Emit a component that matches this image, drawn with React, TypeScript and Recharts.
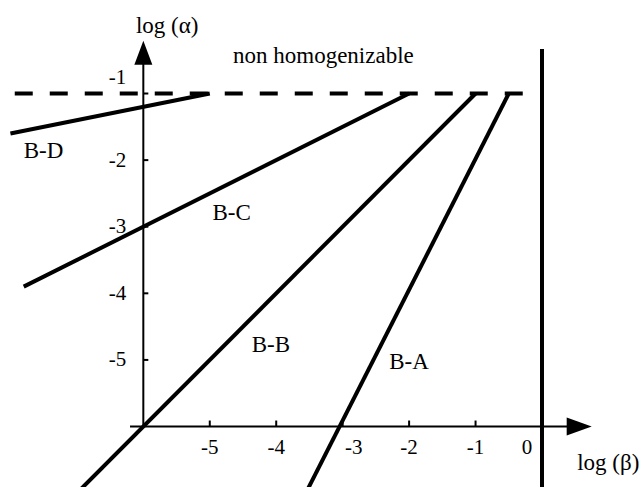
import { ComposedChart, Line, XAxis, YAxis, ReferenceLine, ReferenceDot } from 'recharts'

// log(beta) / log(alpha) end points of each boundary line
const lineBD = [{ x: -8, y: -1.6 }, { x: -5, y: -1 }]
const lineBC = [{ x: -7.8, y: -3.9 }, { x: -2, y: -1 }]
const lineBB = [{ x: -6.95, y: -6.95 }, { x: -1, y: -1 }]
const lineBA = [{ x: -3.53, y: -6.95 }, { x: -0.5, y: -1 }]

const xTicks = [-5, -4, -3, -2, -1, 0]
const yTicks = [-1, -2, -3, -4, -5]

const limitAlpha = -1
const limitBeta = 0

const annotations = [
    { x: -4.65, y: -0.54, text: 'non homogenizable', anchor: 'start' },
    { x: -5.64, y: -0.09, text: 'log (α)', anchor: 'middle' },
    { x: 0.53, y: -6.65, text: 'log (β)', anchor: 'start' },
    { x: -7.8, y: -1.97, text: 'B-D', anchor: 'start' },
    { x: -4.96, y: -2.9, text: 'B-C', anchor: 'start' },
    { x: -4.37, y: -4.88, text: 'B-B', anchor: 'start' },
    { x: -2.3, y: -5.14, text: 'B-A', anchor: 'start' },
]

const textStyle = { fontFamily: 'Liberation Serif, Times New Roman, serif' }

// tick labels nudged away from the lines, as in the original figure
const xLabelShift: Record<number, number> = { [-3]: 11, 0: -15 }
const yLabelShift: Record<number, number> = { [-1]: -16 }

const series = [
    { id: 'bd', data: lineBD },
    { id: 'bc', data: lineBC },
    { id: 'bb', data: lineBB },
    { id: 'ba', data: lineBA },
]

export default function App() {
    return (
        <div style={{ position: 'absolute', left: 0, top: 0, background: '#fff' }}>
            <ComposedChart width={642} height={487} margin={{ top: 0, right: 0, bottom: 0, left: 0 }}>
                <XAxis type="number" dataKey="x" hide domain={[-8.157, 1.505]} allowDataOverflow />
                <YAxis type="number" dataKey="y" hide domain={[-6.908, 0.404]} allowDataOverflow />

                {/* axes */}
                <ReferenceLine segment={[{ x: -6, y: -6 }, { x: -6, y: -0.5 }]} stroke="#000" strokeWidth={2} ifOverflow="visible" />
                <ReferenceLine segment={[{ x: -6.2, y: -6 }, { x: 0.5, y: -6 }]} stroke="#000" strokeWidth={2} ifOverflow="visible" />
                <ReferenceDot
                    x={-6}
                    y={-0.207}
                    r={0}
                    ifOverflow="visible"
                    shape={(p: any) => (
                        <polygon points={`${p.cx},${p.cy} ${p.cx - 9},${p.cy + 24} ${p.cx + 9},${p.cy + 24}`} fill="#000" />
                    )}
                />
                <ReferenceDot
                    x={0.748}
                    y={-6}
                    r={0}
                    ifOverflow="visible"
                    shape={(p: any) => (
                        <polygon points={`${p.cx},${p.cy} ${p.cx - 25},${p.cy - 9} ${p.cx - 25},${p.cy + 9}`} fill="#000" />
                    )}
                />

                {xTicks.map(t => (
                    <ReferenceDot
                        key={'xt' + t}
                        x={t}
                        y={-6}
                        r={0}
                        ifOverflow="visible"
                        shape={(p: any) => (
                            <g>
                                <line x1={p.cx} x2={p.cx} y1={p.cy} y2={p.cy - 6} stroke="#000" strokeWidth={2} />
                                <text x={p.cx + (xLabelShift[t] || 0)} y={p.cy + 27} textAnchor="middle" style={textStyle} fontSize={21} fill="#000">
                                    {t === 0 ? '0' : '-' + Math.abs(t)}
                                </text>
                            </g>
                        )}
                    />
                ))}
                {yTicks.map(t => (
                    <ReferenceDot
                        key={'yt' + t}
                        x={-6}
                        y={t}
                        r={0}
                        ifOverflow="visible"
                        shape={(p: any) => (
                            <g>
                                <line x1={p.cx} x2={p.cx + 5} y1={p.cy} y2={p.cy} stroke="#000" strokeWidth={2} />
                                <text x={p.cx - 17} y={p.cy + 6.5 + (yLabelShift[t] || 0)} textAnchor="end" style={textStyle} fontSize={21} fill="#000">
                                    {'-' + Math.abs(t)}
                                </text>
                            </g>
                        )}
                    />
                ))}

                {/* limits */}
                <ReferenceLine
                    segment={[{ x: -7.935, y: limitAlpha }, { x: -0.27, y: limitAlpha }]}
                    stroke="#000"
                    strokeWidth={4}
                    strokeDasharray="18 17"
                    ifOverflow="visible"
                />
                <ReferenceLine
                    segment={[{ x: limitBeta, y: -6.95 }, { x: limitBeta, y: -0.33 }]}
                    stroke="#000"
                    strokeWidth={4}
                    ifOverflow="visible"
                />

                {series.map(s => (
                    <Line
                        key={s.id}
                        data={s.data}
                        dataKey="y"
                        type="linear"
                        stroke="#000"
                        strokeWidth={4}
                        dot={false}
                        activeDot={false}
                        isAnimationActive={false}
                    />
                ))}

                {annotations.map(a => (
                    <ReferenceDot
                        key={a.text}
                        x={a.x}
                        y={a.y}
                        r={0}
                        ifOverflow="visible"
                        shape={(p: any) => (
                            <text x={p.cx} y={p.cy} textAnchor={a.anchor as any} style={textStyle} fontSize={23} fill="#000">
                                {a.text}
                            </text>
                        )}
                    />
                ))}
            </ComposedChart>
        </div>
    )
}
